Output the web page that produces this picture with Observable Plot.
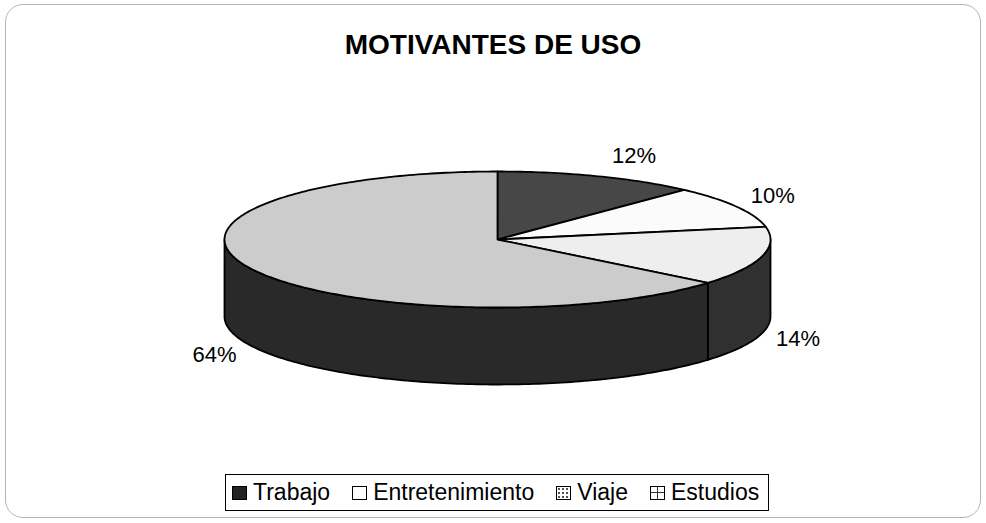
<!DOCTYPE html>
<html>
<head>
<meta charset="utf-8">
<script src="https://cdn.jsdelivr.net/npm/d3@7"></script>
<script src="https://cdn.jsdelivr.net/npm/@observablehq/plot@0.6"></script>
<style>
  html, body { margin: 0; padding: 0; background: #fff; }
  #wrap { position: relative; width: 986px; height: 523px; overflow: hidden; font-family: "Liberation Sans", Arial, sans-serif; }
  #frame { position: absolute; left: 5px; top: 4px; width: 974px; height: 512px; border: 1px solid #b5b5b5; border-radius: 18px; }
  #title { position: absolute; left: 0; width: 986px; top: 31px; text-align: center; font-size: 28px; line-height: 28px; font-weight: bold; color: #000; }
  #chart { position: absolute; left: 0; top: 0; }
  #legend { position: absolute; left: 225px; top: 474px; height: 37px; box-sizing: border-box; border: 1px solid #000; display: inline-flex; align-items: center; padding: 0 9px 0 6px; font-size: 23px; color: #000; background: #fff; }
  .item { display: inline-flex; align-items: center; margin-right: 22px; }
  .item:last-child { margin-right: 0; }
  .sw { width: 15px; height: 14px; border: 1px solid #000; margin-right: 6px; box-sizing: border-box; }
</style>
</head>
<body>
<div id="wrap">
  <div id="frame"></div>
  <div id="chart"></div>
  <div id="title"></div>
  <div id="legend"></div>
</div>
<script>
// ---- data ----
const title = "MOTIVANTES DE USO";
const categories = ["Trabajo", "Entretenimiento", "Viaje", "Estudios"];
const values = [12, 10, 14, 64];
const valueLabels = ["12%", "10%", "14%", "64%"];
const topColors = ["#474747", "#fbfbfb", "#eeeeee", "#cccccc"];
const sideColors = ["#262626", "#8a8a8a", "#303030", "#292929"];
const swatchStyles = [
  "background:#222;",
  "background:#fff;",
  "background:#fff radial-gradient(#555 1px, transparent 1.2px) 0 0/4px 4px;",
  "background:#fff; background-image:linear-gradient(#333,#333),linear-gradient(#333,#333); background-size:1px 100%,100% 1px; background-position:center,center; background-repeat:no-repeat;"
];

// ---- geometry of the 3D pie (layout) ----
const cx = 497, cy = 239, rx = 273, ry = 68, depth = 77;
const total = d3.sum(values);
let acc = 0;
const slices = categories.map((c, i) => {
  const a0 = acc / total * 2 * Math.PI;
  acc += values[i];
  const a1 = acc / total * 2 * Math.PI;
  return {c, i, a0, a1};
});
const rim = (a, dz = 0) => [cx + rx * Math.sin(a), cy - ry * Math.cos(a) + dz];
function arc(a0, a1, dz) {
  const n = Math.max(2, Math.ceil((a1 - a0) / (Math.PI / 180)));
  return d3.range(n + 1).map(k => rim(a0 + (a1 - a0) * k / n, dz));
}

const tops = [];
const sides = [];
for (const s of slices) {
  const pts = [[cx, cy], ...arc(s.a0, s.a1, 0)];
  for (const [x, y] of pts) tops.push({x, y, id: s.c, fill: topColors[s.i]});
  const s0 = Math.max(s.a0, Math.PI / 2), s1 = Math.min(s.a1, 3 * Math.PI / 2);
  if (s1 > s0) {
    const sp = [...arc(s0, s1, 0), ...arc(s0, s1, depth).reverse()];
    for (const [x, y] of sp) sides.push({x, y, id: s.c, fill: sideColors[s.i]});
  }
}

const labels = slices.map(s => {
  const m = (s.a0 + s.a1) / 2;
  const front = Math.cos(m) < 0;
  const [x, y] = rim(m, front ? depth : 0);
  return {x: x + 36 * Math.sign(Math.sin(m)), y: y - 22 * Math.cos(m), text: valueLabels[s.i]};
});

const plot = Plot.plot({
  width: 986,
  height: 523,
  margin: 0,
  x: {domain: [0, 986], range: [0, 986], axis: null},
  y: {domain: [0, 523], range: [0, 523], axis: null},
  color: {type: "identity"},
  style: {background: "transparent", overflow: "visible"},
  marks: [
    Plot.line(sides, {x: "x", y: "y", z: "id", fill: "fill", stroke: "#000", strokeWidth: 1.8, curve: "linear-closed", strokeLinejoin: "round"}),
    Plot.line(tops, {x: "x", y: "y", z: "id", fill: "fill", stroke: "#000", strokeWidth: 1.8, curve: "linear-closed", strokeLinejoin: "round"}),
    Plot.text(labels, {x: "x", y: "y", text: "text", fontSize: 22, fill: "#000", fontFamily: "Liberation Sans, Arial, sans-serif", textAnchor: "middle", lineAnchor: "middle"})
  ]
});
document.getElementById("chart").appendChild(plot);
document.getElementById("title").textContent = title;

const legend = document.getElementById("legend");
categories.forEach((c, i) => {
  const it = document.createElement("span");
  it.className = "item";
  const sw = document.createElement("span");
  sw.className = "sw";
  sw.style.cssText = swatchStyles[i];
  it.appendChild(sw);
  it.appendChild(document.createTextNode(c));
  legend.appendChild(it);
});
</script>
</body>
</html>
